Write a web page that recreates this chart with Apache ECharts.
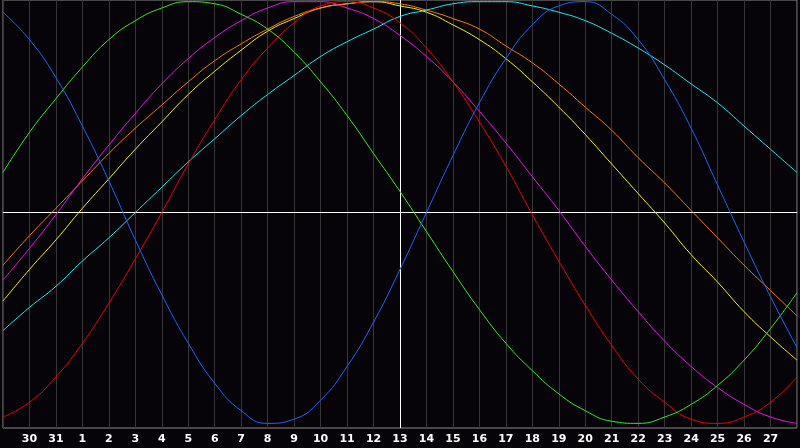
<!DOCTYPE html>
<html>
<head>
<meta charset="utf-8">
<script src="https://cdn.jsdelivr.net/npm/echarts@6/dist/echarts.min.js"></script>
<style>
html,body{margin:0;padding:0;background:#060409;}
#chart{width:800px;height:448px;}
</style>
</head>
<body>
<div id="chart"></div>
<script>
// Day labels (x axis categories); first and last sit at the chart edges without labels
const days = ['29','30','31','1','2','3','4','5','6','7','8','9','10','11','12','13','14','15','16','17','18','19','20','21','22','23','24','25','26','27','28'];
const markDay = '13';

// Cycle values per day (-1 .. 1)
const blue = [0.95,0.82,0.64,0.41,0.15,-0.13,-0.39,-0.62,-0.81,-0.94,-1.00,-0.98,-0.89,-0.73,-0.52,-0.27,0.00,0.27,0.52,0.73,0.89,0.98,1.00,0.94,0.82,0.63,0.40,0.13,-0.14,-0.40,-0.64];
const red = [-0.97,-0.90,-0.78,-0.62,-0.43,-0.22,0.00,0.23,0.44,0.63,0.78,0.90,0.98,1.00,0.97,0.90,0.78,0.62,0.43,0.22,-0.01,-0.23,-0.44,-0.63,-0.79,-0.90,-0.98,-1.00,-0.97,-0.90,-0.78];
const green = [0.19,0.38,0.54,0.69,0.82,0.91,0.97,1.00,0.99,0.94,0.87,0.76,0.62,0.46,0.28,0.10,-0.09,-0.28,-0.46,-0.62,-0.75,-0.86,-0.94,-0.99,-1.00,-0.97,-0.91,-0.82,-0.70,-0.55,-0.38];
const magenta = [-0.32,-0.17,-0.01,0.16,0.32,0.47,0.61,0.73,0.83,0.91,0.97,1.00,1.00,0.97,0.92,0.84,0.74,0.62,0.48,0.33,0.17,0.01,-0.16,-0.32,-0.47,-0.61,-0.73,-0.83,-0.91,-0.97,-1.00];
const orange = [-0.25,-0.11,0.02,0.15,0.28,0.40,0.51,0.62,0.72,0.80,0.87,0.93,0.97,0.99,1.00,0.99,0.96,0.92,0.87,0.79,0.71,0.61,0.50,0.39,0.26,0.14,0.01,-0.12,-0.25,-0.37,-0.49];
const yellow = [-0.42,-0.27,-0.13,0.02,0.16,0.30,0.43,0.56,0.67,0.77,0.86,0.92,0.97,0.99,1.00,0.98,0.95,0.89,0.82,0.73,0.62,0.50,0.37,0.23,0.09,-0.05,-0.20,-0.33,-0.47,-0.59,-0.70];
const cyan = [-0.56,-0.45,-0.35,-0.23,-0.12,0.00,0.12,0.24,0.35,0.46,0.56,0.65,0.74,0.81,0.87,0.93,0.96,0.99,1.00,1.00,0.98,0.95,0.91,0.85,0.78,0.70,0.61,0.52,0.41,0.30,0.19];

const seriesDefs = [
  {name:'cyan', data:cyan, color:'#14f0f0'},
  {name:'yellow', data:yellow, color:'#f5f500'},
  {name:'orange', data:orange, color:'#ff7a00'},
  {name:'magenta', data:magenta, color:'#f010f0'},
  {name:'red', data:red, color:'#f00000'},
  {name:'green', data:green, color:'#2ef020'},
  {name:'blue', data:blue, color:'#1a66ff'}
];

const chart = echarts.init(document.getElementById('chart'), null, {renderer:'canvas'});
const series = seriesDefs.map((s, i) => {
  const o = {
    name: s.name,
    type: 'line',
    data: s.data,
    smooth: true,
    symbol: 'none',
    silent: true,
    z: 2,
    lineStyle: {color: s.color, width: 1},
    itemStyle: {color: s.color}
  };
  if (i === 0) {
    o.markLine = {
      silent: true,
      symbol: 'none',
      label: {show: false},
      z: 1,
      lineStyle: {color: '#ffffff', width: 1, type: 'solid'},
      data: [
        {xAxis: markDay},
        [{coord: [days[0], 0]}, {coord: [days[days.length - 1], 0]}]
      ]
    };
  }
  return o;
});

chart.setOption({
  backgroundColor: '#060409',
  animation: false,
  grid: {left: 0, top: 0, width: 802, height: 428, show: true, borderColor: '#8a8a8a', borderWidth: 1, containLabel: false},
  xAxis: {
    type: 'category',
    data: days,
    boundaryGap: false,
    axisLine: {show: true, lineStyle: {color: '#8a8a8a', width: 1}},
    axisTick: {show: false},
    splitLine: {show: true, interval: 0, lineStyle: {color: '#363636', width: 1}},
    axisLabel: {
      interval: 0,
      color: '#ffffff',
      fontFamily: 'DejaVu Sans',
      fontWeight: 'bold',
      fontSize: 11,
      margin: 6,
      formatter: function (v, idx) {
        return (idx === 0 || idx === days.length - 1) ? '' : v;
      }
    }
  },
  yAxis: {
    type: 'value',
    min: -1.022,
    max: 1.008,
    axisLine: {show: false},
    axisTick: {show: false},
    axisLabel: {show: false},
    splitLine: {show: false}
  },
  series: series
});
</script>
</body>
</html>
